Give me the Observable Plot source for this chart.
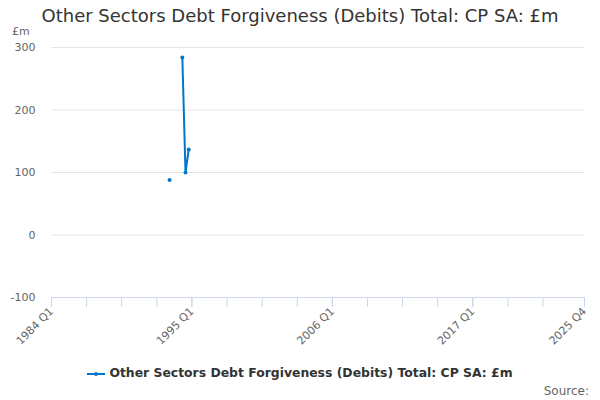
<!DOCTYPE html>
<html>
<head>
<meta charset="utf-8">
<script src="https://cdn.jsdelivr.net/npm/d3@7"></script>
<script src="https://cdn.jsdelivr.net/npm/@observablehq/plot@0.6"></script>
<style>
  html, body { margin: 0; padding: 0; background: #fff; }
  #wrap { position: relative; width: 600px; height: 400px; font-family: "DejaVu Sans", sans-serif; overflow: hidden; }
  #title { position: absolute; left: 0; width: 600px; top: 5px; text-align: center; font-size: 18px; color: #333; white-space: nowrap; }
  #unit { position: absolute; left: 12px; top: 25px; font-size: 11px; color: #666; }
  #chart { position: absolute; left: 0; top: 28px; }
  #legend { position: absolute; left: 0; width: 600px; top: 365px; text-align: center; font-size: 12.4px; font-weight: bold; color: #333; white-space: nowrap; }
  #legend svg { vertical-align: middle; margin-right: 4px; }
  #source { position: absolute; right: 11px; top: 384px; font-size: 12px; color: #666; }
</style>
</head>
<body>
<div id="wrap">
  <div id="title">Other Sectors Debt Forgiveness (Debits) Total: CP SA: £m</div>
  <div id="unit">£m</div>
  <div id="chart"></div>
  <div id="legend"><svg width="18" height="6"><line x1="0" y1="3" x2="18" y2="3" stroke="#0077c8" stroke-width="2"/><circle cx="9" cy="3" r="2" fill="#0077c8"/></svg>Other Sectors Debt Forgiveness (Debits) Total: CP SA: £m</div>
  <div id="source">Source:</div>
</div>
<script>
// Data
const periods = ["1993 Q2", "1993 Q3", "1993 Q4", "1994 Q1", "1994 Q2", "1994 Q3", "1994 Q4"];
const values  = [88, null, null, null, 284, 100, 137];
const labelTicks = ["1984 Q1", "1995 Q1", "2006 Q1", "2017 Q1", "2025 Q4"];
const minorTicks = ["1984 Q1", "1986 Q4", "1989 Q3", "1992 Q2", "1995 Q1", "1997 Q4", "2000 Q3", "2003 Q2", "2006 Q1", "2008 Q4", "2011 Q3", "2014 Q2", "2017 Q1", "2019 Q4", "2022 Q3", "2025 Q4"];
const yTicks = [-100, 0, 100, 200, 300];
const xStart = "1984 Q1", xEnd = "2025 Q4";

function parseQ(s) {
  const [y, q] = s.split(" Q");
  return new Date(Date.UTC(+y, (+q - 1) * 3, 1));
}
function fmtQ(d) {
  return d.getUTCFullYear() + " Q" + (Math.floor(d.getUTCMonth() / 3) + 1);
}

const data = periods.map((p, i) => ({date: parseQ(p), value: values[i]}));
const color = "#0077c8";

const chart = Plot.plot({
  width: 600,
  height: 320,
  marginLeft: 51,
  marginRight: 16,
  marginTop: 19,
  marginBottom: 51,
  style: {fontFamily: "DejaVu Sans, sans-serif", fontSize: "11px", color: "#666", background: "transparent"},
  x: {type: "utc", domain: [parseQ(xStart), parseQ(xEnd)]},
  y: {domain: [-100, 300]},
  marks: [
    Plot.ruleY(yTicks.filter(d => d > -100), {stroke: "#e6e6e6", strokeOpacity: 1}),
    Plot.ruleY([-100], {stroke: "#ccd6eb", strokeOpacity: 1}),
    Plot.axisY({ticks: yTicks, tickSize: 0, tickPadding: 16, label: null, fill: "#666", tickFormat: d => String(d)}),
    Plot.axisX({ticks: minorTicks.map(parseQ), tickSize: 10, tickFormat: () => "", stroke: "#ccd6eb", label: null}),
    Plot.axisX({ticks: labelTicks.map(parseQ), tickSize: 10, tickRotate: -45, tickFormat: fmtQ, stroke: "#ccd6eb", fill: "#666", label: null, tickPadding: 2}),
    Plot.line(data, {x: "date", y: "value", stroke: color, strokeWidth: 2}),
    Plot.dot(data.filter(d => d.value != null), {x: "date", y: "value", r: 2, fill: color, stroke: "none"})
  ]
});
document.getElementById("chart").appendChild(chart);
</script>
</body>
</html>
